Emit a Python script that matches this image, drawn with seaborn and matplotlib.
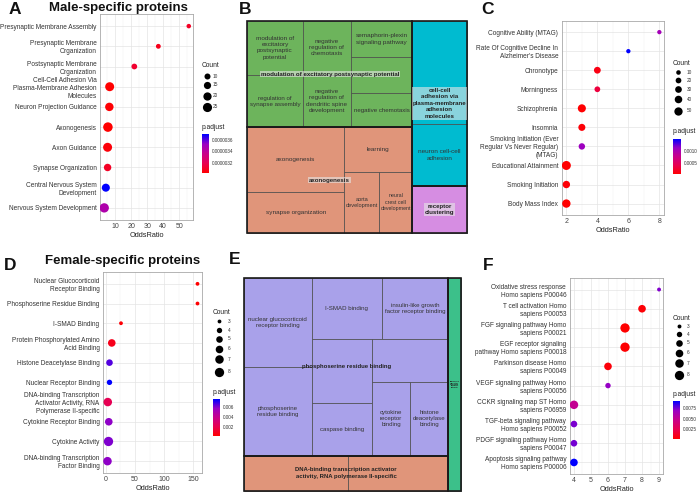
import numpy as np
import pandas as pd
import matplotlib
matplotlib.use("Agg")
import matplotlib.pyplot as plt
import seaborn as sns
from matplotlib.colors import LinearSegmentedColormap, Normalize
from matplotlib.cm import ScalarMappable
from matplotlib.patches import Rectangle
from matplotlib.ticker import AutoMinorLocator, FormatStrFormatter

# ---------------- data ----------------
a_terms = ['Presynaptic Membrane Assembly', 'Presynaptic Membrane\nOrganization',
           'Postsynaptic Membrane\nOrganization',
           'Cell-Cell Adhesion Via\nPlasma-Membrane Adhesion\nMolecules',
           'Neuron Projection Guidance', 'Axonogenesis', 'Axon Guidance',
           'Synapse Organization', 'Central Nervous System\nDevelopment',
           'Nervous System Development']
a_odds = [56, 37, 22, 6.6, 6.4, 5.5, 5.3, 5.3, 4.2, 3.2]
a_count = [5, 6, 9, 24, 21, 27, 24, 16, 19, 26]
a_padj = [3.10e-6, 3.08e-6, 3.12e-6, 3.02e-6, 3.03e-6, 3.02e-6, 3.04e-6, 3.10e-6, 3.69e-6, 3.45e-6]

c_terms = ['Cognitive Ability (MTAG)', "Rate Of Cognitive Decline In\nAlzheimer's Disease",
           'Chronotype', 'Morningness', 'Schizophrenia', 'Insomnia',
           'Smoking Initiation (Ever\nRegular Vs Never Regular)\n(MTAG)',
           'Educational Attainment', 'Smoking Initiation', 'Body Mass Index']
c_odds = [8, 6, 4, 4, 3, 3, 3, 2, 2, 2]
c_count = [8, 8, 31, 20, 47, 34, 27, 60, 38, 51]
c_padj = [0.00105, 0.0015, 0.0001, 0.0003, 0.00002, 0.00005, 0.0011, 0.00001, 0.00004, 0.00002]

d_terms = ['Nuclear Glucocorticoid\nReceptor Binding', 'Phosphoserine Residue Binding',
           'I-SMAD Binding', 'Protein Phosphorylated Amino\nAcid Binding',
           'Histone Deacetylase Binding', 'Nuclear Receptor Binding',
           'DNA-binding Transcription\nActivator Activity, RNA\nPolymerase II-specific',
           'Cytokine Receptor Binding', 'Cytokine Activity',
           'DNA-binding Transcription\nFactor Binding']
d_odds = [157, 157, 26, 10.2, 6.3, 6.3, 3.4, 5.1, 4.6, 2.9]
d_count = [3, 3, 3, 6, 5, 4, 7, 6, 8, 7]
d_padj = [0.00014, 0.0002, 0.0003, 0.0008, 0.0065, 0.0075, 0.0021, 0.0058, 0.006, 0.0058]

f_terms = ['Oxidative stress response\nHomo sapiens P00046', 'T cell activation Homo\nsapiens P00053',
           'FGF signaling pathway Homo\nsapiens P00021', 'EGF receptor signaling\npathway Homo sapiens P00018',
           'Parkinson disease Homo\nsapiens P00049', 'VEGF signaling pathway Homo\nsapiens P00056',
           'CCKR signaling map ST Homo\nsapiens P06959', 'TGF-beta signaling pathway\nHomo sapiens P00052',
           'PDGF signaling pathway Homo\nsapiens P00047', 'Apoptosis signaling pathway\nHomo sapiens P00006']
f_odds = [9, 8, 7, 7, 6, 6, 4, 4, 4, 4]
f_count = [3, 6, 8, 8, 6, 4, 7, 5, 5, 6]
f_padj = [0.0073, 0.0004, 0.0002, 0.0003, 0.0005, 0.0070, 0.0050, 0.0074, 0.0075, 0.0092]

# treemap B
b_terms = ['modulation of\nexcitatory\npostsynaptic\npotential', 'regulation of\nsynapse assembly',
           'negative\nregulation of\nchemotaxis', 'negative\nregulation of\ndendritic spine\ndevelopment',
           'semaphorin-plexin\nsignaling pathway', '', 'negative chemotaxis',
           'axonogenesis', 'synapse organization', 'learning', 'aorta\ndevelopment',
           'neural\ncrest cell\ndevelopment', '', 'neuron cell-cell\nadhesion', '']
b_groups = ['modulation of excitatory postsynaptic potential'] * 7 + ['axonogenesis'] * 5 + \
           ['cell-cell\nadhesion via\nplasma-membrane\nadhesion\nmolecules'] * 2 + ['receptor\nclustering']
b_scores = [3.0, 2.9, 2.6, 2.55, 2.25, 2.2, 2.1, 6.3, 3.9, 3.0, 2.15, 2.0, 5.65, 3.4, 2.55]

# treemap E
e_terms = ['nuclear glucocorticoid\nreceptor binding', 'phosphoserine\nresidue binding', 'I-SMAD binding',
           'insulin-like growth\nfactor receptor binding', '', 'caspase binding', '',
           'cytokine\nreceptor\nbinding', 'histone\ndeacetylase\nbinding', '', '', '']
e_groups = ['phosphoserine residue binding'] * 9 + \
           ['DNA-binding transcription activator\nactivity, RNA polymerase II-specific'] * 2 + \
           ['signaling\nreceptor\ncomplex\nadaptor\nactivity']
e_scores = [6.0, 6.0, 4.27, 4.06, 3.84, 3.14, 3.25, 2.86, 2.81, 3.65, 3.5, 2.7]

# ---------------- style ----------------
sns.set_style("white")
plt.rcParams['font.family'] = ['Liberation Sans', 'DejaVu Sans']

W, H = 700, 492
fig = plt.figure(figsize=(7, 4.92), dpi=100)
cmap = LinearSegmentedColormap.from_list('rb', ['#FF0000', '#E8004F', '#C90089', '#9A00C3', '#0000FF'])


def frect(l, t, r, b):
    return [l / W, 1 - b / H, (r - l) / W, (b - t) / H]


def ftext(x, y, s, **kw):
    fig.text(x / W, 1 - y / H, s, **kw)


overlay = fig.add_axes([0, 0, 1, 1])
overlay.set_xlim(0, W)
overlay.set_ylim(H, 0)
overlay.axis('off')
overlay.patch.set_alpha(0)


def dotplot(terms, odds, counts, padj, box, dmin, dmax, xticks, leg, cb_ticks, cb_fmt):
    df = pd.DataFrame({'Term': terms, 'OddsRatio': odds, 'Count': counts, 'p.adjust': padj})
    ax = fig.add_axes(frect(*box))
    smin, smax = (dmin * 0.72) ** 2, (dmax * 0.72) ** 2
    cmin, cmax = min(counts), max(counts)
    pnorm = Normalize(min(padj), max(padj))
    sns.scatterplot(data=df, x='OddsRatio', y='Term', hue='p.adjust', size='Count',
                    palette=cmap, hue_norm=pnorm, sizes=(smin, smax), size_norm=(cmin, cmax),
                    legend=False, ax=ax, linewidth=0, zorder=3)
    n = len(terms)
    ax.set_ylim(n - 1 + 0.6, -0.6)
    lo, hi = min(odds), max(odds)
    pad = 0.05 * (hi - lo)
    ax.set_xlim(lo - pad, hi + pad)
    ax.set_xticks(xticks)
    ax.xaxis.set_minor_locator(AutoMinorLocator(2))
    ax.grid(True, which='major', color='#E4E4E4', lw=0.5)
    ax.grid(True, which='minor', axis='x', color='#F0F0F0', lw=0.35)
    ax.set_axisbelow(True)
    for s in ax.spines.values():
        s.set_color('#A8A8A8')
        s.set_linewidth(0.6)
    ax.tick_params(axis='y', labelsize=4.7, colors='#333333', length=1.5, width=0.4, pad=1)
    ax.tick_params(axis='x', labelsize=5, colors='#444444', length=1.5, width=0.4, pad=1)
    ax.tick_params(axis='x', which='minor', length=0)
    ax.set_xlabel('OddsRatio', fontsize=5.3, color='#222222', labelpad=1)
    ax.set_ylabel('')

    # size legend
    ftext(leg['x'], leg['ty'], 'Count', fontsize=4.8, color='#222222', va='center', ha='left')
    for c, yy in zip(leg['counts'], leg['ys']):
        s = smin + (c - cmin) / (cmax - cmin) * (smax - smin)
        overlay.scatter([leg['dx']], [yy], s=max(s, 4), color='black', linewidths=0)
        ftext(leg['lx'], yy, str(c), fontsize=3.4, color='#333333', va='center', ha='left')
    # colorbar
    ftext(leg['x'], leg['py'], 'p.adjust', fontsize=4.8, color='#222222', va='center', ha='left')
    cax = fig.add_axes(frect(*leg['cb']))
    cb = fig.colorbar(ScalarMappable(norm=pnorm, cmap=cmap), cax=cax)
    cb.outline.set_visible(False)
    cb.set_ticks(cb_ticks)
    cb.ax.yaxis.set_major_formatter(FormatStrFormatter(cb_fmt))
    cb.ax.tick_params(labelsize=3.3, length=1.5, width=0.4, color='white', direction='in',
                      pad=2, labelcolor='#333333')
    return ax


def wsum(node, scores):
    if isinstance(node, int):
        return scores[node]
    return sum(wsum(k, scores) for k in node[1])


def layout(node, x0, y0, x1, y1, scores, out):
    if isinstance(node, int):
        out[node] = (x0, y0, x1, y1)
        return
    d, kids = node
    w = [wsum(k, scores) for k in kids]
    tot = sum(w)
    pos = x0 if d == 'h' else y0
    for k, wk in zip(kids, w):
        if d == 'h':
            nx = pos + (x1 - x0) * wk / tot
            layout(k, pos, y0, nx, y1, scores, out)
            pos = nx
        else:
            ny = pos + (y1 - y0) * wk / tot
            layout(k, x0, pos, x1, ny, scores, out)
            pos = ny


renderer = fig.canvas.get_renderer()


def fit(t, wpx, hpx, frac=0.92):
    bb = t.get_window_extent(renderer)
    sc = min(1.0, frac * wpx / bb.width if bb.width else 1, frac * hpx / bb.height if bb.height else 1)
    if sc < 1:
        t.set_fontsize(t.get_fontsize() * sc)


def treemap(box, terms, groups, scores, spec, colors, fs, gfs, gbg, gfs_over=None):
    ax = fig.add_axes(frect(*box))
    ax.set_xlim(0, 1)
    ax.set_ylim(1, 0)
    ax.axis('off')
    axw, axh = box[2] - box[0], box[3] - box[1]
    out = {}
    layout(spec, 0, 0, 1, 1, scores, out)
    for i, (x0, y0, x1, y1) in out.items():
        ax.add_patch(Rectangle((x0, y0), x1 - x0, y1 - y0, facecolor=colors[groups[i]],
                               edgecolor='#4A4A4A', lw=0.5, clip_on=False))
        if terms[i]:
            t = ax.text((x0 + x1) / 2, (y0 + y1) / 2, terms[i], ha='center', va='center',
                        fontsize=fs, color='#333333', linespacing=1.3)
            fit(t, (x1 - x0) * axw, (y1 - y0) * axh)
    seen = []
    for g in groups:
        if g not in seen:
            seen.append(g)
    for g in seen:
        idx = [i for i in range(len(groups)) if groups[i] == g]
        gx0 = min(out[i][0] for i in idx)
        gy0 = min(out[i][1] for i in idx)
        gx1 = max(out[i][2] for i in idx)
        gy1 = max(out[i][3] for i in idx)
        ax.add_patch(Rectangle((gx0, gy0), gx1 - gx0, gy1 - gy0, fill=False,
                               edgecolor='#1A1A1A', lw=1.2, clip_on=False, zorder=4))
        size = gfs if (gfs_over is None or g not in gfs_over) else gfs_over[g]
        kw = dict(ha='center', va='center', fontsize=size, fontweight='bold',
                  color='#222222', linespacing=1.35, zorder=5)
        if gbg:
            kw['bbox'] = dict(facecolor='#E6E6E6', alpha=0.6, edgecolor='none', pad=0.6)
        t = ax.text((gx0 + gx1) / 2, (gy0 + gy1) / 2, g, **kw)
        fit(t, (gx1 - gx0) * axw, (gy1 - gy0) * axh, 1.0)
    return ax


# ---------------- panels ----------------
dotplot(a_terms, a_odds, a_count, a_padj, (100, 14, 193, 220), 4.5, 9.5, [10, 20, 30, 40, 50],
        dict(x=201.7, ty=65.7, dx=206.7, ys=[76, 84.7, 95.7, 106.7], counts=[10, 15, 20, 25],
             lx=212.5, py=127.7, cb=(201.7, 134.3, 209.3, 173.3)),
        [3.2e-6, 3.4e-6, 3.6e-6], '%.7f')

dotplot(c_terms, c_odds, c_count, c_padj, (561.7, 20.7, 664, 215), 4.3, 9.0, [2, 4, 6, 8],
        dict(x=672.7, ty=63.3, dx=678.3, ys=[72, 80.3, 89.3, 99.3, 111], counts=[10, 20, 30, 40, 50],
             lx=686.5, py=131.7, cb=(673.3, 139, 680.7, 174.3)),
        [0.0005, 0.0010], '%.4f')

dotplot(d_terms, d_odds, d_count, d_padj, (103, 272, 202, 473), 3.8, 9.3, [0, 50, 100, 150],
        dict(x=212.7, ty=312.3, dx=219, ys=[321.3, 330.3, 339, 348.7, 359.3, 371.7],
             counts=[3, 4, 5, 6, 7, 8], lx=227.5, py=392.3, cb=(213.3, 399.3, 220, 436)),
        [0.002, 0.004, 0.006], '%.3f')

dotplot(f_terms, f_odds, f_count, f_padj, (569.7, 278, 663.3, 474), 3.9, 9.3, [4, 5, 6, 7, 8, 9],
        dict(x=672.7, ty=318.3, dx=678.7, ys=[326.3, 334.3, 343, 352.7, 363.3, 375],
             counts=[3, 4, 5, 6, 7, 8], lx=686.5, py=395, cb=(673.3, 401, 680, 439)),
        [0.0025, 0.0050, 0.0075], '%.4f')

b_colors = {b_groups[0]: '#6DB45C', b_groups[7]: '#E0957A', b_groups[12]: '#00BBD0', b_groups[14]: '#D68DE2'}
b_spec = ('h', [('v', [('h', [('v', [0, 1]), ('v', [2, 3]), ('v', [4, 5, 6])]),
                       ('h', [('v', [7, 8]), ('v', [9, ('h', [10, 11])])])]),
                ('v', [('v', [12, 13]), 14])])
treemap((247.3, 20.7, 467, 232.7), b_terms, b_groups, b_scores, b_spec, b_colors, 4.6, 4.4, True)

e_colors = {e_groups[0]: '#A9A1EA', e_groups[9]: '#E0957A', e_groups[11]: '#3CC08A'}
e_spec = ('h', [('v', [('h', [('v', [0, 1]),
                              ('v', [('h', [2, 3]), ('h', [('v', [4, 5]), ('v', [6, ('h', [7, 8])])])])]),
                       ('h', [9, 10])]),
                11])
treemap((244, 278.3, 461, 490.7), e_terms, e_groups, e_scores, e_spec, e_colors, 4.4, 4.3, False,
        {e_groups[11]: 1.6})

# titles and panel letters
ftext(118, 8, 'Male-specific proteins', fontsize=9.5, fontweight='bold', ha='center', va='center', color='#111111')
ftext(123, 261, 'Female-specific proteins', fontsize=9.5, fontweight='bold', ha='center', va='center', color='#111111')
for letter, x, y in [('A', 15, 9), ('B', 245, 9), ('C', 487, 9.5), ('D', 10, 265), ('E', 235, 260), ('F', 488, 266)]:
    ftext(x, y, letter, fontsize=12.5, fontweight='bold', ha='center', va='center', color='#111111')

fig.savefig('out.png', dpi=100)
